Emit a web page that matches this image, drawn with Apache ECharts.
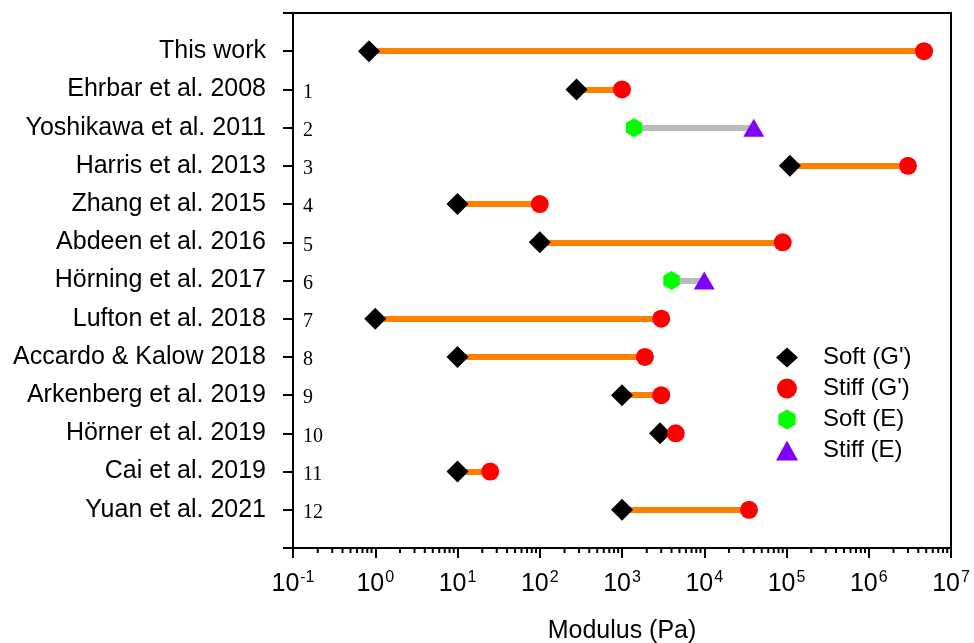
<!DOCTYPE html>
<html><head><meta charset="utf-8">
<script src="https://cdn.jsdelivr.net/npm/echarts@6/dist/echarts.min.js"></script>
<style>html,body{margin:0;padding:0;background:#fff}#c{width:974px;height:643px}</style>
</head><body><div id="c"></div>
<script>
const studies = ['This work', 'Ehrbar et al. 2008', 'Yoshikawa et al. 2011', 'Harris et al. 2013',
  'Zhang et al. 2015', 'Abdeen et al. 2016', 'H\u00f6rning et al. 2017', 'Lufton et al. 2018',
  'Accardo & Kalow 2018', 'Arkenberg et al. 2019', 'H\u00f6rner et al. 2019', 'Cai et al. 2019', 'Yuan et al. 2021'];
const refNumbers = ['', '1', '2', '3', '4', '5', '6', '7', '8', '9', '10', '11', '12'];
const softModulus = [0.84, 280, 1400, 1.1e5, 10, 100, 4000, 1, 10, 1000, 2900, 10, 1000];
const stiffModulus = [4.7e6, 1000, 40000, 3.0e6, 100, 90000, 10000, 3000, 1900, 3000, 4500, 25, 35000];
const measureType = ['G', 'G', 'E', 'G', 'G', 'G', 'E', 'G', 'G', 'G', 'G', 'G', 'G'];
const minorTickValues = [];
for (let k = -1; k < 7; k++) for (let m = 2; m < 10; m++) minorTickValues.push(m * Math.pow(10, k));

const FONT = 'Liberation Sans, Arial, Helvetica, sans-serif';
const hexagon = 'path://M0,-1 L0.866,-0.5 L0.866,0.5 L0,1 L-0.866,0.5 L-0.866,-0.5 Z';

function pts(values, type) {
  const out = [];
  values.forEach((v, i) => { if (measureType[i] === type) out.push([v, i + 1]); });
  return out;
}
const lineData = studies.map((s, i) => ({
  coords: [[softModulus[i], i + 1], [stiffModulus[i], i + 1]],
  lineStyle: { color: measureType[i] === 'G' ? '#ff8000' : '#bbbbbb' }
}));

const chart = echarts.init(document.getElementById('c'), null, { renderer: 'canvas' });
chart.setOption({
  animation: false,
  backgroundColor: '#fff',
  grid: { left: 293, right: 23, top: 13, bottom: 95, show: true, borderColor: '#000', borderWidth: 2,
    backgroundColor: 'transparent', containLabel: false, outerBoundsMode: 'none' },
  xAxis: {
    type: 'log', logBase: 10, min: 0.1, max: 1e7, interval: 1, splitNumber: 8, position: 'bottom',
    axisLine: { show: true, onZero: false, lineStyle: { color: '#000', width: 2 } },
    axisTick: { show: true, length: 10, inside: false, lineStyle: { color: '#000', width: 2 } },
    splitLine: { show: false },
    axisLabel: {
      margin: 21, color: '#000',
      formatter: v => '{b|10}{s|' + Math.round(Math.log10(v)) + '}',
      rich: {
        b: { fontSize: 25, fontFamily: FONT, color: '#000', lineHeight: 30 },
        s: { fontSize: 16, fontFamily: FONT, color: '#000', lineHeight: 30, padding: [0, 0, 13, 1] }
      }
    },
    name: 'Modulus (Pa)', nameLocation: 'middle', nameGap: 71,
    nameTextStyle: { fontSize: 25, fontFamily: FONT, color: '#000' }
  },
  yAxis: [{
    type: 'value', min: 0, max: 14, interval: 1, inverse: true,
    axisLine: { show: true, onZero: false, lineStyle: { color: '#000', width: 2 } },
    axisTick: { show: true, length: 10, inside: false, lineStyle: { color: '#000', width: 2 } },
    splitLine: { show: false },
    axisLabel: {
      margin: 27, color: '#000', fontSize: 25, fontFamily: FONT,
      formatter: v => (v >= 1 && v <= studies.length) ? studies[v - 1] : ''
    }
  }, {
    type: 'value', min: 0, max: 14, interval: 1, inverse: true, position: 'left',
    axisLine: { show: false }, axisTick: { show: false }, splitLine: { show: false },
    axisLabel: {
      inside: true, margin: 10, color: '#000',
      formatter: v => (v >= 1 && v <= refNumbers.length && refNumbers[v - 1]) ? '{r|' + refNumbers[v - 1] + '}' : '',
      rich: {
        r: { fontSize: 20, fontFamily: 'Liberation Serif, Times New Roman, serif', color: '#000', lineHeight: 20, padding: [6, 0, 0, 0] }
      }
    }
  }],
  legend: {
    orient: 'vertical', left: 771, top: 337, itemWidth: 22, itemHeight: 20, itemGap: 0,
    textStyle: { fontSize: 24, fontFamily: FONT, color: '#000', lineHeight: 31, padding: [0, 0, 0, 20] },
    data: ["Soft (G')", "Stiff (G')", 'Soft (E)', 'Stiff (E)']
  },
  series: [
    { type: 'lines', coordinateSystem: 'cartesian2d', polyline: false, z: 1, silent: true,
      lineStyle: { width: 6, opacity: 1 }, data: lineData },
    { type: 'custom', z: 1, silent: true, clip: false, data: minorTickValues,
      renderItem: (params, api) => {
        const p = api.coord([api.value(0), 14]);
        return { type: 'line', shape: { x1: p[0], y1: p[1], x2: p[0], y2: p[1] + 5 }, style: { stroke: '#000', lineWidth: 2 } };
      },
      encode: { x: 0 } },
    { name: "Soft (G')", type: 'scatter', symbol: 'diamond', symbolSize: 22, symbolKeepAspect: true, z: 3,
      itemStyle: { color: '#000', opacity: 1 }, data: pts(softModulus, 'G') },
    { name: "Stiff (G')", type: 'scatter', symbol: 'circle', symbolSize: 18, symbolKeepAspect: true, z: 3,
      itemStyle: { color: '#ff0000', opacity: 1 }, data: pts(stiffModulus, 'G') },
    { name: 'Soft (E)', type: 'scatter', symbol: hexagon, symbolSize: 19, symbolKeepAspect: true, z: 3,
      itemStyle: { color: '#00ff00', opacity: 1 }, data: pts(softModulus, 'E') },
    { name: 'Stiff (E)', type: 'scatter', symbol: 'triangle', symbolSize: [21, 18], symbolKeepAspect: true, z: 3,
      itemStyle: { color: '#8000ff', opacity: 1 }, data: pts(stiffModulus, 'E') }
  ]
});
</script></body></html>
